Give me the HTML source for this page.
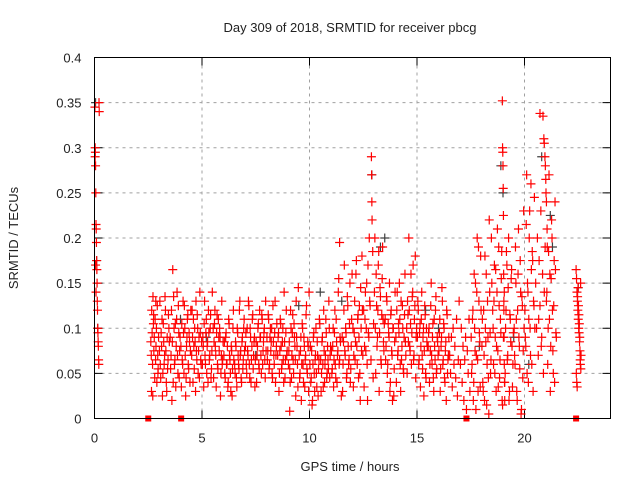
<!DOCTYPE html>
<html><head><meta charset="utf-8"><style>
html,body{margin:0;padding:0;background:#fff;}
svg text{font-family:"Liberation Sans",sans-serif;font-size:13px;fill:#222;}
</style></head><body>
<svg id="chart" width="640" height="480" viewBox="0 0 640 480" xmlns="http://www.w3.org/2000/svg">
<rect width="640" height="480" fill="#fff"/>
<text x="350" y="32" text-anchor="middle">Day 309 of 2018, SRMTID for receiver pbcg</text>
<text transform="translate(18,238) rotate(-90)" text-anchor="middle">SRMTID / TECUs</text>
<text x="350" y="471" text-anchor="middle">GPS time / hours</text>
<g id="grid"></g><g id="ticks"></g><g id="gray"></g><g id="red"></g><g id="zeros"></g>
<rect x="94.5" y="57.5" width="516" height="361" fill="none" stroke="#000" stroke-width="1"/>
</svg>
<script>
const xTicks=[0,5,10,15,20];
const yTicks=[0,0.05,0.1,0.15,0.2,0.25,0.3,0.35,0.4];
const yTickLabels=["0","0.05","0.1","0.15","0.2","0.25","0.3","0.35","0.4"];
const hours=[
0.02,0.03,0.04,0.05,0.06,0.07,0.08,0.09,0.10,0.11,0.12,0.13,
0.14,0.15,0.16,0.17,0.18,0.19,0.20,0.21,0.03,0.05,0.07,0.22,
2.62,2.64,2.66,2.68,2.70,2.72,2.74,2.76,2.78,2.80,2.82,2.84,
2.86,2.88,2.90,2.92,2.94,2.96,2.98,2.65,2.75,2.85,2.95,2.71,
3.02,3.06,3.10,3.14,3.18,3.22,3.26,3.30,3.34,3.38,3.42,3.46,
3.04,3.08,3.12,3.16,3.20,3.24,3.28,3.32,3.36,3.40,3.44,3.48,
3.52,3.56,3.60,3.64,3.68,3.72,3.76,3.80,3.84,3.88,3.92,3.96,
3.54,3.58,3.62,3.66,3.70,3.74,3.78,3.82,3.86,3.90,3.94,3.98,
4.02,4.06,4.10,4.14,4.18,4.22,4.26,4.30,4.34,4.38,4.42,4.46,
4.04,4.08,4.12,4.16,4.20,4.24,4.28,4.32,4.36,4.40,4.44,4.48,
4.52,4.56,4.60,4.64,4.68,4.72,4.76,4.80,4.84,4.88,4.92,4.96,
4.54,4.58,4.62,4.66,4.70,4.74,4.78,4.82,4.86,4.90,4.94,4.98,
5.02,5.06,5.10,5.14,5.18,5.22,5.26,5.30,5.34,5.38,5.42,5.46,
5.04,5.08,5.12,5.16,5.20,5.24,5.28,5.32,5.36,5.40,5.44,5.48,
5.52,5.56,5.60,5.64,5.68,5.72,5.76,5.80,5.84,5.88,5.92,5.96,
5.54,5.58,5.62,5.66,5.70,5.74,5.78,5.82,5.86,5.90,5.94,5.98,
6.02,6.06,6.10,6.14,6.18,6.22,6.26,6.30,6.34,6.38,6.42,6.46,
6.04,6.08,6.12,6.16,6.20,6.24,6.28,6.32,6.36,6.40,6.44,6.48,
6.52,6.56,6.60,6.64,6.68,6.72,6.76,6.80,6.84,6.88,6.92,6.96,
6.54,6.58,6.62,6.66,6.70,6.74,6.78,6.82,6.86,6.90,6.94,6.98,
7.02,7.06,7.10,7.14,7.18,7.22,7.26,7.30,7.34,7.38,7.42,7.46,
7.04,7.08,7.12,7.16,7.20,7.24,7.28,7.32,7.36,7.40,7.44,7.48,
7.52,7.56,7.60,7.64,7.68,7.72,7.76,7.80,7.84,7.88,7.92,7.96,
7.54,7.58,7.62,7.66,7.70,7.74,7.78,7.82,7.86,7.90,7.94,7.98,
8.02,8.06,8.10,8.14,8.18,8.22,8.26,8.30,8.34,8.38,8.42,8.46,
8.04,8.08,8.12,8.16,8.20,8.24,8.28,8.32,8.36,8.40,8.44,8.48,
8.52,8.56,8.60,8.64,8.68,8.72,8.76,8.80,8.84,8.88,8.92,8.96,
8.54,8.58,8.62,8.66,8.70,8.74,8.78,8.82,8.86,8.90,8.94,9.08,
9.02,9.06,9.10,9.14,9.18,9.22,9.26,9.30,9.34,9.38,9.42,9.46,
9.04,9.08,9.12,9.16,9.20,9.24,9.28,9.32,9.36,9.40,9.44,9.48,
9.52,9.56,9.60,9.64,9.68,9.72,9.76,9.80,9.84,9.88,9.92,9.96,
9.54,9.58,9.62,9.66,9.70,9.74,9.78,9.82,9.86,9.90,9.94,9.98,
10.02,10.06,10.10,10.14,10.18,10.22,10.26,10.30,10.34,10.38,10.42,10.46,
10.04,10.08,10.12,10.16,10.20,10.24,10.28,10.32,10.36,10.40,10.44,10.48,
10.52,10.56,10.60,10.64,10.68,10.72,10.76,10.80,10.84,10.88,10.92,10.96,
10.54,10.58,10.62,10.66,10.70,10.74,10.78,10.82,10.86,10.90,10.94,10.98,
11.02,11.06,11.10,11.14,11.18,11.22,11.26,11.30,11.34,11.38,11.42,11.40,
11.04,11.08,11.12,11.16,11.20,11.24,11.28,11.32,11.36,11.40,11.44,11.48,
11.52,11.56,11.60,11.64,11.68,11.72,11.76,11.80,11.84,11.88,11.92,11.96,
11.54,11.58,11.62,11.66,11.70,11.74,11.78,11.82,11.86,11.90,11.94,11.98,
12.02,12.06,12.10,12.14,12.18,12.22,12.26,12.30,12.34,12.38,12.42,12.46,
12.04,12.08,12.12,12.16,12.20,12.24,12.28,12.32,12.36,12.40,12.44,12.48,
12.52,12.56,12.60,12.64,12.68,12.72,12.76,12.80,12.88,12.89,12.90,12.91,
12.54,12.58,12.62,12.66,12.70,12.74,12.78,12.82,12.86,12.94,12.96,12.98,
13.02,13.06,13.10,13.14,13.18,13.22,13.26,13.30,13.34,13.38,13.42,13.46,
13.04,13.08,13.12,13.16,13.20,13.24,13.28,13.32,13.36,13.40,13.44,13.48,
13.52,13.56,13.60,13.64,13.68,13.72,13.76,13.80,13.84,13.88,13.92,13.96,
13.54,13.58,13.62,13.66,13.70,13.74,13.78,13.82,13.86,13.90,13.94,13.98,
14.02,14.06,14.10,14.14,14.18,14.22,14.26,14.30,14.34,14.38,14.42,14.46,
14.04,14.08,14.12,14.16,14.20,14.24,14.28,14.32,14.36,14.40,14.44,14.48,
14.52,14.56,14.60,14.64,14.68,14.72,14.76,14.80,14.84,14.88,14.92,14.96,
14.54,14.58,14.62,14.66,14.70,14.74,14.78,14.82,14.86,14.90,14.94,14.98,
15.02,15.06,15.10,15.14,15.18,15.22,15.26,15.30,15.34,15.38,15.42,15.46,
15.04,15.08,15.12,15.16,15.20,15.24,15.28,15.32,15.36,15.40,15.44,15.48,
15.52,15.56,15.60,15.64,15.68,15.72,15.76,15.80,15.84,15.88,15.92,15.96,
15.54,15.58,15.62,15.66,15.70,15.74,15.78,15.82,15.86,15.90,15.94,15.98,
16.02,16.06,16.10,16.14,16.18,16.22,16.26,16.30,16.34,16.38,16.42,16.46,
16.04,16.08,16.12,16.16,16.20,16.24,16.28,16.32,16.36,16.40,16.44,16.48,
16.52,16.56,16.60,16.64,16.68,16.72,16.76,16.80,16.84,16.88,16.92,16.96,
17.02,17.06,17.10,17.14,17.18,17.22,17.26,17.30,17.34,17.38,17.42,17.46,
17.52,17.56,17.60,17.64,17.68,17.72,17.76,17.80,17.84,17.88,17.92,17.96,
17.54,17.58,17.62,17.66,17.70,17.74,17.78,17.82,17.86,17.90,17.94,17.98,
18.02,18.06,18.10,18.14,18.18,18.22,18.26,18.30,18.34,18.38,18.42,18.46,
18.04,18.08,18.12,18.16,18.20,18.24,18.28,18.32,18.36,18.40,18.44,18.48,
18.52,18.56,18.60,18.64,18.68,18.72,18.76,18.80,18.84,18.88,18.92,18.96,
18.54,18.58,18.62,18.66,18.70,18.74,18.78,18.82,18.86,18.90,18.94,18.98,
18.97,18.98,18.99,19.00,19.01,19.02,19.03,19.04,19.05,19.06,19.07,19.08,
19.02,19.06,19.10,19.14,19.18,19.22,19.26,19.30,19.34,19.38,19.42,19.46,
19.04,19.08,19.12,19.16,19.20,19.24,19.28,19.32,19.36,19.40,19.44,19.48,
19.52,19.56,19.60,19.64,19.68,19.72,19.76,19.80,19.84,19.88,19.92,19.96,
19.54,19.58,19.62,19.66,19.70,19.74,19.78,19.82,19.86,19.90,19.94,19.98,
20.02,20.06,20.10,20.14,20.18,20.22,20.26,20.30,20.34,20.38,20.42,20.46,
20.04,20.08,20.12,20.16,20.20,20.24,20.28,20.32,20.36,20.40,20.44,20.48,
20.52,20.56,20.60,20.64,20.68,20.72,20.76,20.80,20.84,20.88,20.92,20.96,
20.72,20.86,20.90,20.92,20.95,20.97,20.99,21.00,21.02,20.66,20.78,21.05,
21.02,21.06,21.10,21.14,21.18,21.22,21.26,21.30,21.34,21.38,21.42,21.46,
21.04,21.08,21.12,21.16,21.20,21.24,21.28,21.32,21.36,21.40,21.44,21.48,
22.40,22.42,22.44,22.46,22.48,22.50,22.52,22.54,22.56,22.58,22.60,22.62,
22.41,22.43,22.45,22.47,22.49,22.51,22.53,22.55,22.57,22.59,22.61,22.63
];
const srmtid=[
.345,.30,.295,.28,.25,.215,.21,.195,.175,.165,.15,.13,
.12,.10,.095,.085,.08,.065,.06,.35,.29,.17,.14,.34,
.085,.07,.12,.095,.06,.135,.105,.075,.09,.045,.11,.065,
.08,.10,.04,.125,.07,.055,.09,.03,.115,.13,.05,.025,
.075,.06,.095,.11,.05,.085,.07,.12,.04,.09,.065,.10,
.13,.045,.08,.025,.105,.06,.135,.075,.03,.055,.115,.085,
.09,.07,.02,.165,.135,.06,.105,.08,.14,.05,.095,.075,
.055,.12,.085,.04,.10,.065,.035,.11,.07,.125,.045,.09,
.08,.105,.06,.095,.125,.07,.045,.09,.115,.055,.085,.075,
.035,.065,.13,.05,.1,.025,.08,.11,.06,.095,.04,.12,
.07,.09,.11,.055,.085,.13,.065,.10,.075,.045,.095,.06,
.12,.04,.08,.1,.03,.075,.115,.05,.09,.14,.065,.085,
.06,.08,.105,.07,.095,.05,.085,.12,.065,.1,.045,.075,
.09,.035,.13,.06,.11,.08,.04,.095,.07,.115,.055,.14,
.1,.085,.12,.07,.095,.06,.11,.075,.09,.05,.13,.065,
.045,.105,.08,.035,.115,.055,.09,.1,.025,.07,.06,.085,
.07,.05,.09,.06,.08,.04,.105,.065,.03,.075,.055,.12,
.085,.045,.095,.06,.035,.11,.07,.05,.08,.025,.1,.065,
.06,.085,.045,.1,.07,.055,.13,.075,.04,.09,.065,.11,
.05,.08,.035,.095,.06,.12,.07,.045,.085,.055,.1,.075,
.08,.06,.1,.07,.125,.045,.09,.065,.11,.055,.085,.035,
.095,.05,.075,.13,.06,.1,.04,.08,.115,.07,.09,.065,
.085,.07,.1,.06,.12,.09,.05,.11,.075,.095,.065,.13,
.04,.08,.105,.055,.09,.07,.115,.06,.085,.1,.045,.075,
.09,.075,.11,.06,.1,.085,.05,.125,.07,.095,.04,.08,
.065,.115,.055,.09,.075,.1,.045,.085,.06,.13,.07,.105,
.07,.095,.05,.11,.08,.06,.1,.04,.085,.065,.12,.075,
.09,.03,.075,.105,.055,.085,.065,.14,.045,.095,.07,.008,
.06,.085,.04,.1,.07,.115,.05,.09,.065,.13,.08,.035,
.075,.055,.12,.045,.095,.065,.105,.08,.025,.09,.06,.145,
.07,.05,.09,.06,.1,.04,.08,.065,.115,.055,.085,.03,
.045,.075,.02,.105,.06,.09,.035,.07,.125,.05,.08,.14,
.06,.04,.075,.02,.09,.05,.065,.1,.035,.07,.055,.11,
.08,.045,.015,.06,.095,.03,.07,.05,.085,.025,.065,.105,
.065,.05,.09,.035,.075,.06,.11,.045,.08,.055,.1,.07,
.03,.085,.06,.12,.04,.07,.095,.05,.065,.13,.045,.08,
.075,.055,.1,.065,.12,.045,.085,.07,.14,.06,.09,.195,
.05,.08,.035,.095,.06,.11,.04,.075,.155,.065,.085,.025,
.09,.06,.12,.075,.1,.045,.135,.08,.065,.15,.055,.11,
.03,.085,.17,.07,.095,.05,.125,.06,.105,.04,.08,.16,
.1,.07,.13,.085,.175,.06,.115,.09,.05,.145,.075,.12,
.035,.095,.065,.16,.08,.11,.045,.125,.02,.1,.18,.07,
.12,.08,.14,.1,.06,.17,.09,.13,.29,.27,.24,.22,
.035,.11,.075,.15,.02,.095,.2,.125,.065,.185,.045,.105,
.14,.1,.16,.08,.12,.185,.095,.135,.06,.155,.11,.075,
.2,.05,.125,.09,.17,.03,.145,.065,.115,.19,.085,.105,
.11,.08,.13,.06,.095,.15,.04,.12,.07,.1,.025,.085,
.065,.135,.05,.105,.09,.03,.115,.075,.02,.1,.055,.14,
.09,.12,.07,.105,.15,.06,.13,.08,.1,.05,.115,.085,
.04,.14,.075,.095,.11,.03,.065,.125,.055,.09,.16,.07,
.1,.13,.085,.12,.075,.16,.095,.14,.065,.11,.18,.09,
.05,.115,.2,.08,.105,.06,.135,.17,.07,.125,.045,.1,
.09,.12,.065,.105,.08,.14,.055,.1,.075,.115,.045,.085,
.13,.06,.095,.035,.11,.07,.09,.025,.125,.05,.1,.08,
.08,.1,.06,.125,.07,.09,.045,.11,.065,.135,.055,.085,
.095,.04,.075,.15,.06,.105,.03,.08,.12,.05,.09,.07,
.075,.11,.055,.09,.13,.065,.1,.04,.085,.12,.05,.07,
.095,.03,.08,.145,.06,.105,.045,.075,.02,.115,.065,.09,
.07,.05,.09,.035,.1,.06,.08,.045,.11,.025,.065,.13,
.06,.1,.04,.08,.02,.065,.09,.01,.075,.05,.11,.03,
.09,.06,.12,.04,.1,.15,.07,.2,.03,.13,.085,.18,
.05,.11,.02,.16,.075,.01,.14,.065,.19,.095,.035,.12,
.08,.04,.12,.02,.1,.16,.06,.09,.005,.14,.05,.2,
.11,.03,.07,.18,.085,.015,.13,.045,.22,.095,.065,.15,
.12,.06,.17,.09,.03,.14,.075,.19,.045,.11,.155,.02,
.1,.13,.05,.165,.08,.21,.035,.125,.065,.095,.185,.015,
.352,.30,.295,.28,.255,.225,.16,.12,.09,.06,.04,.02,
.09,.14,.05,.12,.17,.07,.2,.03,.11,.155,.08,.06,
.13,.04,.1,.185,.065,.145,.02,.115,.085,.165,.035,.095,
.1,.06,.15,.03,.12,.21,.08,.175,.005,.135,.045,.23,
.07,.19,.11,.02,.16,.09,.055,.14,.01,.125,.075,.1,
.12,.08,.27,.15,.04,.2,.1,.26,.06,.175,.13,.245,
.09,.215,.05,.14,.11,.23,.07,.165,.185,.03,.125,.1,
.15,.1,.2,.07,.175,.125,.23,.09,.16,.05,.14,.19,
.338,.335,.31,.305,.29,.28,.265,.25,.24,.11,.08,.21,
.13,.19,.1,.27,.16,.08,.22,.12,.05,.175,.24,.095,
.14,.06,.185,.11,.03,.155,.2,.075,.125,.04,.165,.09,
.165,.155,.14,.13,.12,.11,.1,.095,.085,.075,.06,.055,
.05,.04,.035,.135,.145,.125,.115,.105,.09,.065,.15,.07
];
const grayHours=[0.05,0.1,0.15,4.0,5.2,7.5,9.5,10.5,11.5,12.9,13.3,13.5,15.4,16.0,17.9,18.9,19.0,19.5,20.2,20.8,21.2,21.3,22.5];
const graySrmtid=[0.35,0.175,0.1,0.11,0.09,0.07,0.125,0.14,0.13,0.27,0.19,0.2,0.12,0.1,0.08,0.28,0.25,0.09,0.06,0.29,0.225,0.19,0.145];
const zeroHours=[2.5,4.03,17.3,22.4];
const zeroValues=[0,0,0,0];

const X0=94.5,X1=610.5,Y0=418.5,Y1=57.5;
const xs=h=>X0+(h/24)*(X1-X0);
const ys=v=>Y0-(v/0.4)*(Y0-Y1);
const NS="http://www.w3.org/2000/svg";
function mk(tag,attrs,parent){const e=document.createElementNS(NS,tag);for(const k in attrs)e.setAttribute(k,attrs[k]);parent.appendChild(e);return e;}
const grid=document.getElementById('grid'),ticks=document.getElementById('ticks');
yTicks.forEach((v,i)=>{
  const y=Math.round(ys(v))+0.5-0.5;
  if(i>0&&i<yTicks.length-1){const g=mk('line',{x1:X0,x2:X1,y1:ys(v),y2:ys(v),stroke:'#a0a0a0','stroke-dasharray':'3,4'},grid);
  
  }
  const t1=mk('line',{x1:X0,x2:X0+8,y1:ys(v),y2:ys(v),stroke:'#000'},ticks);
  
  
  const t2=mk('line',{x1:X1-8,x2:X1,y1:ys(v),y2:ys(v),stroke:'#000'},ticks);
  
  
  const tx=mk('text',{x:X0-13,y:ys(v)+5,'text-anchor':'end'},ticks);
  tx.textContent=yTickLabels[i];
  
  
});
xTicks.forEach(h=>{
  if(h>0){const g=mk('line',{x1:xs(h),x2:xs(h),y1:Y0,y2:Y1,stroke:'#a0a0a0','stroke-dasharray':'3,4'},grid);
  
  }
  const t1=mk('line',{x1:xs(h),x2:xs(h),y1:Y0,y2:Y0-8,stroke:'#000'},ticks);
  
  
  const t2=mk('line',{x1:xs(h),x2:xs(h),y1:Y1,y2:Y1+8,stroke:'#000'},ticks);
  
  
  const tx=mk('text',{x:xs(h),y:Y0+24,'text-anchor':'middle'},ticks);
  tx.textContent=String(h);
  
  
});
function cross(h,v,color,parent,name){
  const x=xs(h),y=ys(v);
  const p=mk('path',{d:`M${x-4.5},${y}H${x+4.5}M${x},${y-4.5}V${y+4.5}`,stroke:color,'stroke-width':1.2,fill:'none'},parent);
  
  
}
const gG=document.getElementById('gray'),gR=document.getElementById('red'),gZ=document.getElementById('zeros');
const n=Math.min(hours.length,srmtid.length);
for(let i=0;i<n;i++)cross(hours[i],srmtid[i],'#ff0000',gR,'srmtid-point');
for(let i=0;i<grayHours.length;i++)cross(grayHours[i],graySrmtid[i],'#404040',gG,'srmtid-alt-point');
zeroHours.forEach((h,i)=>{
  const r=mk('rect',{x:xs(h)-3,y:ys(zeroValues[i])-3,width:6,height:6,fill:'#ff0000'},gZ);
  
  
});
</script>
</body></html>
